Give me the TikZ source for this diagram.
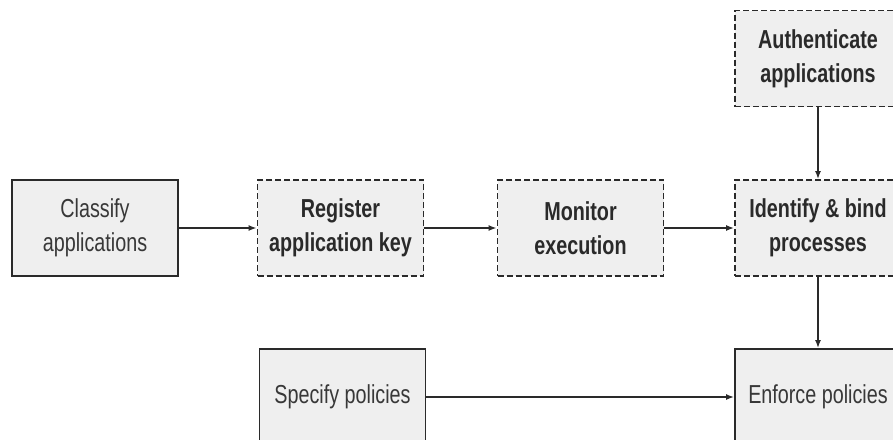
\documentclass[tikz,border=0pt]{standalone}
\usepackage{fontspec}
\setmainfont{Liberation Sans}[FakeStretch=0.76]
\usetikzlibrary{arrows.meta}
\definecolor{boxfill}{HTML}{EFEFEF}
\definecolor{edge}{HTML}{2A2A2A}
\definecolor{txtn}{HTML}{383838}
\tikzset{
  box/.style={draw=edge, line width=1.8pt, fill=boxfill, minimum width=166pt, minimum height=96pt,
    inner sep=0pt, align=center, font=\fontsize{26}{34}\selectfont, text=txtn},
  dbox/.style={box, dash pattern=on 6pt off 3pt, font=\fontsize{26}{34}\selectfont\bfseries, text=edge},
  conn/.style={draw=edge, line width=1.8pt, -{Latex[length=8pt,width=6pt]}}
}
\begin{document}
\begin{tikzpicture}[x=1pt,y=-1pt]
\useasboundingbox (0,0) rectangle (893,439);
\clip (0,0) rectangle (893,439);
\node[box]  (classify) at (95,228)  {Classify\\applications};
\node[dbox] (register) at (340.5,228) {Register\\application key};
\node[dbox] (monitor)  at (580.5,228) {Monitor\\execution};
\node[dbox] (identify) at (818,228) {Identify \& bind\\processes};
\node[dbox] (auth)     at (818,58.5) {Authenticate\\applications};
\node[box]  (specify)  at (342.5,397) {Specify policies};
\node[box]  (enforce)  at (818,397) {Enforce policies};
\draw[conn] (classify) -- (register);
\draw[conn] (register) -- (monitor);
\draw[conn] (monitor) -- (identify);
\draw[conn] (auth) -- (identify);
\draw[conn] (identify) -- (enforce);
\draw[conn] (specify) -- (enforce);
\end{tikzpicture}
\end{document}
